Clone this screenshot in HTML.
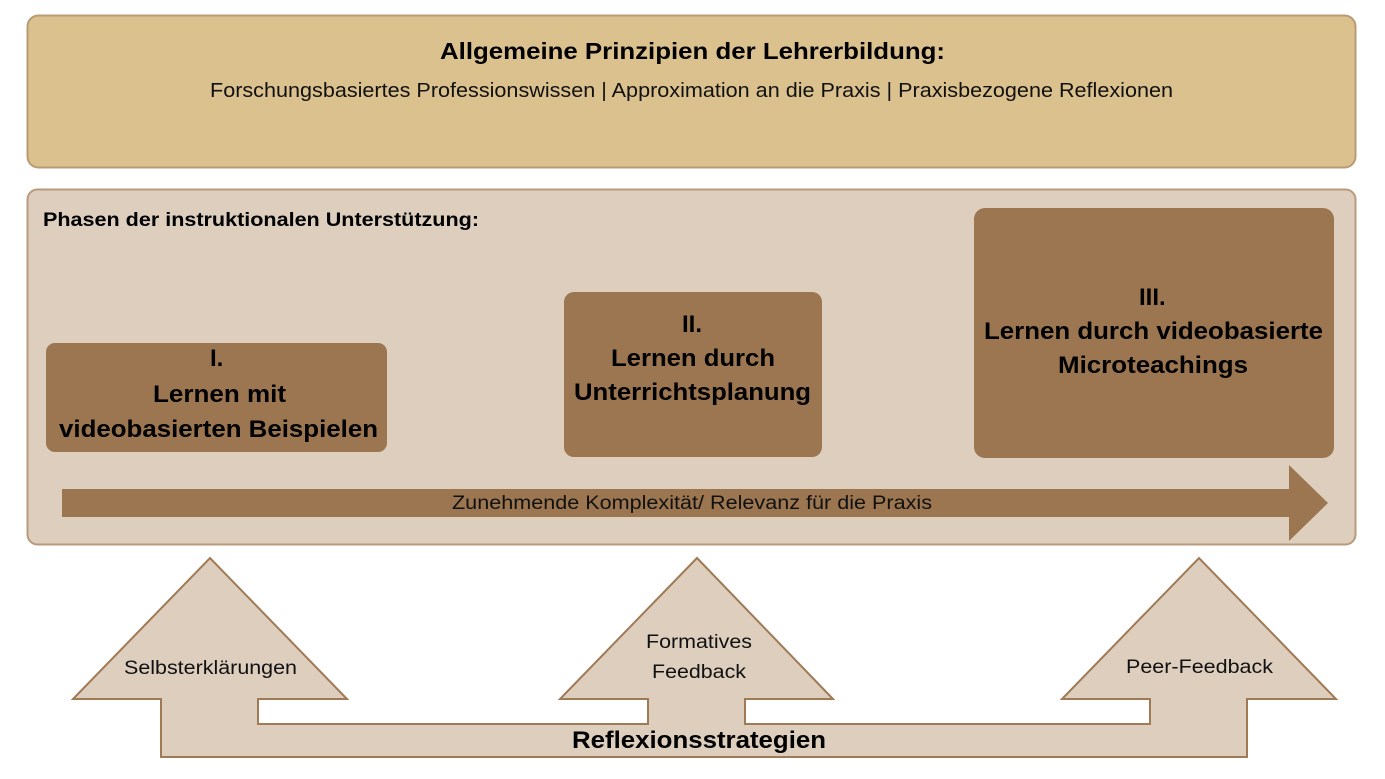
<!DOCTYPE html>
<html><head><meta charset="utf-8"><style>
html,body{margin:0;padding:0;background:#fff;}
svg{display:block;font-family:"Liberation Sans",Arial,sans-serif;}
</style></head><body>
<svg width="1385" height="779" viewBox="0 0 1385 779" xmlns="http://www.w3.org/2000/svg">
<rect x="27.5" y="15.5" width="1328" height="152" rx="11" fill="#dbc18e" stroke="#b89a74" stroke-width="2"/>
<text x="440" y="59" textLength="505" lengthAdjust="spacingAndGlyphs" font-size="23" font-weight="bold" fill="#000">Allgemeine Prinzipien der Lehrerbildung:</text>
<text x="210" y="97" textLength="963" lengthAdjust="spacingAndGlyphs" font-size="20" fill="#111">Forschungsbasiertes Professionswissen | Approximation an die Praxis | Praxisbezogene Reflexionen</text>

<rect x="27.5" y="189.5" width="1328" height="355" rx="10" fill="#ddcebe" stroke="#b89a7c" stroke-width="2"/>
<text x="43" y="226" textLength="436" lengthAdjust="spacingAndGlyphs" font-size="19" font-weight="bold" fill="#000">Phasen der instruktionalen Unterstützung:</text>

<rect x="46" y="343" width="341" height="109" rx="9" fill="#9b7650"/>
<text font-size="24" font-weight="bold" fill="#000">
<tspan x="210" y="366">I.</tspan>
<tspan x="153" y="402" textLength="133" lengthAdjust="spacingAndGlyphs">Lernen mit</tspan>
<tspan x="59" y="437" textLength="319" lengthAdjust="spacingAndGlyphs">videobasierten Beispielen</tspan></text>

<rect x="564" y="292" width="258" height="165" rx="10" fill="#9b7650"/>
<text font-size="24" font-weight="bold" fill="#000">
<tspan x="682" y="332">II.</tspan>
<tspan x="611" y="366" textLength="164" lengthAdjust="spacingAndGlyphs">Lernen durch</tspan>
<tspan x="574" y="400" textLength="237" lengthAdjust="spacingAndGlyphs">Unterrichtsplanung</tspan></text>

<rect x="974" y="208" width="360" height="250" rx="11" fill="#9b7650"/>
<text font-size="24" font-weight="bold" fill="#000">
<tspan x="1139" y="305">III.</tspan>
<tspan x="984" y="339" textLength="339" lengthAdjust="spacingAndGlyphs">Lernen durch videobasierte</tspan>
<tspan x="1058" y="373" textLength="190" lengthAdjust="spacingAndGlyphs">Microteachings</tspan></text>

<polygon points="62,489 1289,489 1289,465 1328,503 1289,541 1289,517 62,517" fill="#9b7650"/>
<text x="452" y="509" textLength="480" lengthAdjust="spacingAndGlyphs" font-size="19" fill="#111">Zunehmende Komplexität/ Relevanz für die Praxis</text>

<polygon points="161,757 161,699 73,699 210,558 347,699 258,699 258,724 648,724 648,699 560,699 697,558 833,699 745,699 745,724 1150,724 1150,699 1062,699 1199,558 1336,699 1247,699 1247,757" fill="#ddcebe" stroke="#a07a55" stroke-width="2"/>
<text x="124" y="674" textLength="173" lengthAdjust="spacingAndGlyphs" font-size="19" fill="#111">Selbsterklärungen</text>
<text font-size="19" fill="#111"><tspan x="646" y="648" textLength="106" lengthAdjust="spacingAndGlyphs">Formatives</tspan><tspan x="652" y="678" textLength="94" lengthAdjust="spacingAndGlyphs">Feedback</tspan></text>
<text x="1126" y="673" textLength="147" lengthAdjust="spacingAndGlyphs" font-size="19" fill="#111">Peer-Feedback</text>
<text x="572" y="748" textLength="254" lengthAdjust="spacingAndGlyphs" font-size="24" font-weight="bold" fill="#000">Reflexionsstrategien</text>
</svg>
</body></html>
